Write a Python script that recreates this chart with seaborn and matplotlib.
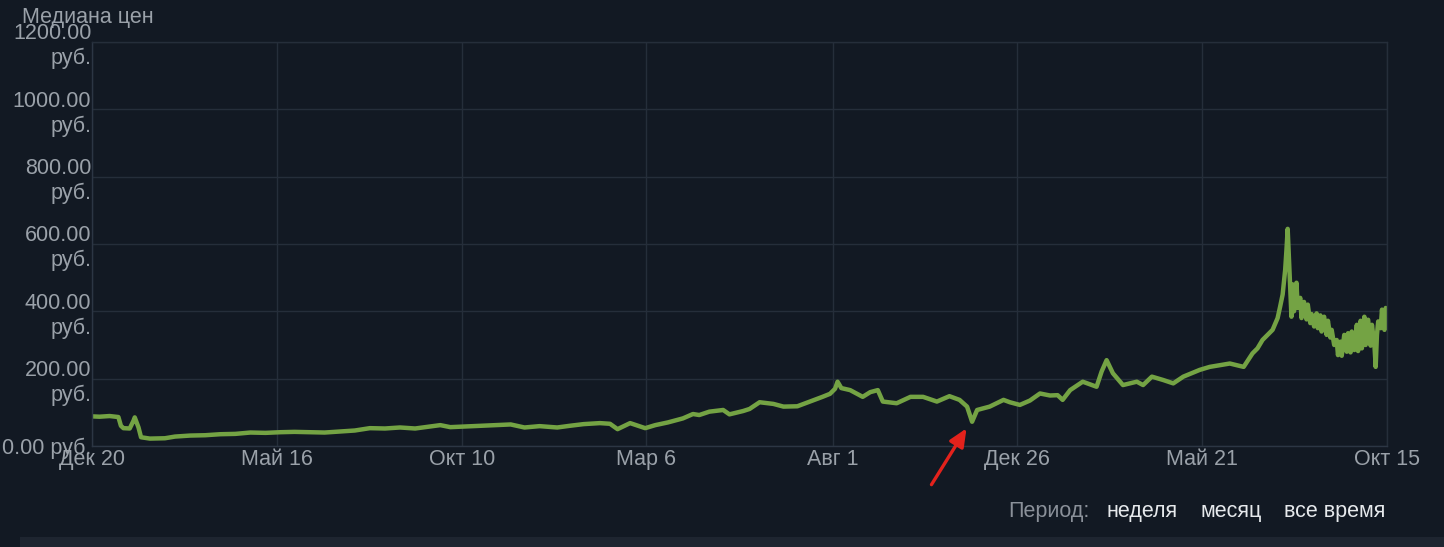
import pandas as pd
import seaborn as sns
import matplotlib.pyplot as plt

# --- данные: дни от 20 дек 2021 и медиана цены (руб.)
start = pd.Timestamp("2021-12-20")
day_offsets = [0, 6, 14, 21, 23, 25, 30, 33, 34, 37, 39, 46, 58, 66, 78, 90, 102, 114,
               126, 138, 150, 161, 173, 185, 197, 209, 221, 233, 245, 257, 269, 277,
               285, 297, 309, 321, 333, 344, 356, 370, 380, 391, 404, 412, 418, 428,
               440, 448, 458, 470, 478, 483, 491, 502, 507, 518, 523, 531, 542, 550,
               561, 571, 581, 587, 591, 593, 596, 603, 613, 619, 625, 629, 640, 651,
               661, 672, 682, 690, 696, 698, 700, 704, 714, 725, 730, 738, 746, 754,
               762, 768, 772, 778, 788, 799, 803, 807, 812, 820, 831, 836, 843, 852,
               860, 868, 881, 889, 897, 905, 916, 923, 927, 931, 935, 939, 943, 945,
               947, 949, 950, 951, 952, 953, 954, 955, 956, 958, 959, 961, 962, 964,
               966, 967, 969, 970, 972, 974, 975, 977, 978, 980, 982, 983, 985, 986,
               988, 990, 991, 993, 994, 996, 998, 999, 1001, 1002, 1004, 1006, 1007,
               1009, 1010, 1012, 1013, 1015, 1017, 1018, 1020, 1021, 1022, 1023, 1025,
               1026, 1028, 1029, 1030]
prices = [88, 87, 89, 86, 60, 53, 52, 75, 85, 55, 26, 22, 23, 28, 31, 32, 35, 36,
          40, 39, 41, 42, 41, 40, 43, 46, 53, 52, 55, 52, 58, 62,
          56, 58, 60, 62, 64, 55, 59, 55, 60, 65, 68, 66, 50, 68,
          53, 62, 70, 82, 95, 92, 102, 107, 94, 104, 110, 130, 125, 117,
          118, 132, 146, 155, 170, 191, 172, 166, 146, 160, 166, 132, 127, 146,
          146, 132, 148, 137, 117, 95, 72, 107, 117, 137, 130, 122, 135, 156,
          150, 151, 137, 166, 191, 176, 221, 255, 216, 181, 191, 181, 206, 196,
          186, 206, 226, 235, 240, 245, 235, 275, 290, 315, 330, 345, 380, 414,
          450, 523, 580, 645, 560, 470, 384, 480, 400, 485, 410, 440, 380, 428,
          376, 420, 365, 392, 355, 394, 350, 388, 340, 384, 330, 372, 322, 345,
          300, 315, 270, 310, 268, 330, 280, 335, 278, 340, 285, 360, 282,
          372, 290, 384, 300, 375, 298, 360, 300, 235, 330, 370, 350,
          405, 345, 410, 370]

tick_dates = ["2021-12-20", "2022-05-16", "2022-10-10", "2023-03-06",
              "2023-08-01", "2023-12-26", "2024-05-21", "2024-10-15"]
tick_names = ["Дек 20", "Май 16", "Окт 10", "Мар 6", "Авг 1", "Дек 26", "Май 21", "Окт 15"]
y_ticks = [0, 200, 400, 600, 800, 1000, 1200]
y_names = ["0.00 руб.", "200.00\nруб.", "400.00\nруб.", "600.00\nруб.",
           "800.00\nруб.", "1000.00\nруб.", "1200.00\nруб."]

df = pd.DataFrame({"date": start + pd.to_timedelta(day_offsets, unit="D"), "price": prices})

bg = "#121923"
grid = "#252e3a"
txt = "#9aa1a9"
fs = 15.5

sns.set_theme(style="dark", rc={"axes.facecolor": bg, "figure.facecolor": bg})
plt.rcParams["font.family"] = ["Liberation Sans", "DejaVu Sans"]

fig = plt.figure(figsize=(14.44, 5.47), dpi=100)
ax = fig.add_axes([92 / 1444, 1 - 446 / 547, 1295 / 1444, 404 / 547])

sns.lineplot(data=df, x="date", y="price", ax=ax, color="#74a344", linewidth=3.2)

ax.set_xlim(start, pd.Timestamp(tick_dates[-1]))
ax.set_ylim(0, 1200)
ax.set_xticks(pd.to_datetime(tick_dates))
ax.set_xticklabels(tick_names)
ax.set_yticks(y_ticks)
ax.set_yticklabels(y_names)
ax.set_xlabel("")
ax.set_ylabel("")
ax.grid(True, color=grid, linewidth=1)
ax.tick_params(axis="both", length=0, labelsize=fs, labelcolor=txt)
ax.tick_params(axis="y", pad=0.5)
ax.tick_params(axis="x", pad=2.5)
for lbl in ax.get_yticklabels():
    lbl.set_linespacing(1.22)
for s in ax.spines.values():
    s.set_color(grid)
    s.set_linewidth(1)
ax.spines["left"].set_color("#2c3644")
ax.spines["bottom"].set_color("#2c3644")

fig.text(22 / 1444, 1 - 17 / 547, "Медиана цен", color=txt, fontsize=fs, va="center")

# период
fig.text(1090 / 1444, 1 - 511 / 547, "Период:", color="#8a9099", fontsize=fs, ha="right", va="center")
fig.text(1106 / 1444, 1 - 511 / 547, "неделя", color="#e6e9ec", fontsize=fs, va="center")
fig.text(1200 / 1444, 1 - 511 / 547, "месяц", color="#e6e9ec", fontsize=fs, va="center")
fig.text(1284 / 1444, 1 - 511 / 547, "все время", color="#e6e9ec", fontsize=fs, va="center")

fig.add_artist(plt.Rectangle((20 / 1444, 0), 1 - 20 / 1444, 10 / 547,
                             transform=fig.transFigure, color="#1e2530", lw=0))

# красная стрелка
ax.annotate("", xy=(968 / 1444, 1 - 426 / 547), xytext=(930 / 1444, 1 - 487 / 547),
            xycoords="figure fraction", textcoords="figure fraction",
            arrowprops=dict(arrowstyle="-|>,head_length=0.9,head_width=0.4",
                            color="#e3221c", lw=2.4))

plt.savefig("out.png", dpi=100, facecolor=bg)
